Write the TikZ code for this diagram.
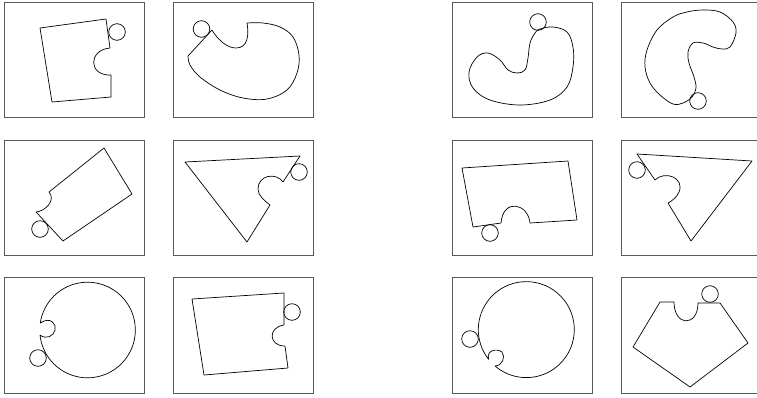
\documentclass[tikz,border=0pt]{standalone}
\begin{document}
\begin{tikzpicture}[x=1pt,y=-1pt,line width=0.7pt,
  panel/.style={draw=black!65,line width=1pt},
  piece/.style={draw,line join=round},
  ball/.style={draw}]
 \useasboundingbox (0,0) rectangle (757,397);
 \foreach \px in {4,173,452,621}
  \foreach \py/\ph in {2/115,140/115,277/116}
   \draw[panel] (\px,\py) rectangle ++(140,\ph);
 % left group, row 1
 \draw[piece] (40,28) -- (106,19) -- (110,48) .. controls (88,50) and (88,76) .. (111,75)
   -- (111,97) -- (52,102) -- cycle;
 \draw[ball] (117,32) circle[radius=8.3];
 \draw[piece] (212,30) -- plot[smooth,tension=0.6] coordinates {(188,56) (190,65) (200,77)
   (220,90) (243,98) (267,99) (287,90) (297,73) (299,55) (293,37) (280,27) (263,23) (247,23)}
   .. controls (249,35) and (248,48) .. (236,48) .. controls (227,48) and (218,40) .. (212,30);
 \draw[ball] (201.5,29) circle[radius=8.3];
 % left group, row 2
 \draw[piece] (104,148) -- (132,194) -- (63,241) -- (36,212)
   .. controls (46,211) and (56,200) .. (49,192) -- cycle;
 \draw[ball] (40,229) circle[radius=8.3];
 \draw[piece] (185,162) -- (300,156) -- (283,182) .. controls (276,172) and (258,175) .. (258,189)
   .. controls (258,196) and (265,201) .. (270,205) -- (247,242) -- cycle;
 \draw[ball] (299,172) circle[radius=8.3];
 % left group, row 3
 \draw[piece] (40,335) arc[start angle=174,end angle=-171.7,radius=47.8]
   .. controls (50,316) and (57,324) .. (55,330) .. controls (54,336) and (46,340) .. (40,335);
 \draw[ball] (38,358) circle[radius=8.3];
 \draw[piece] (192,299) -- (284,293) -- (284,325) .. controls (268,327) and (268,346) .. (285,346)
   -- (288,368) -- (204,375) -- cycle;
 \draw[ball] (292,312) circle[radius=8.3];
 % right group, row 1
 \draw[piece] plot[smooth cycle,tension=0.6] coordinates {(540,29) (553,27) (567,32) (573,47)
   (573,67) (567,87) (550,100) (520,105) (490,100) (473,88) (469,72) (477,57) (488,53)
   (500,60) (508,70) (517,73) (525,70) (528,58) (530,43) (535,33)};
 \draw[ball] (538,22) circle[radius=8.3];
 \draw[piece] plot[smooth cycle,tension=0.6] coordinates {(703,10) (720,12) (733,22) (736,33)
   (730,47) (722,49) (713,47) (703,43) (693,43) (688,52) (689,63) (694,77) (696,88) (692,97)
   (683,103) (673,104) (660,95) (650,83) (645,67) (647,50) (657,30) (673,17) (687,12)};
 \draw[ball] (698,101) circle[radius=8.3];
 % right group, row 2
 \draw[piece] (462,168) -- (568,161) -- (577,220) -- (530,223)
   .. controls (528,203) and (503,198) .. (501,223) -- (473,227) -- cycle;
 \draw[ball] (490,233) circle[radius=8.3];
 \draw[piece] (637,154) -- (752,161) -- (691,241) -- (668,203)
   .. controls (672,201) and (677,197) .. (679,192) .. controls (685,178) and (665,170) .. (655,180)
   -- cycle;
 \draw[ball] (637,170) circle[radius=8.3];
 % right group, row 3
 \draw[piece] (495,366) arc[start angle=130.7,end angle=-218.3,radius=48]
   .. controls (486,350) and (497,348) .. (502,352) .. controls (506,357) and (502,366) .. (495,366);
 \draw[ball] (470,339) circle[radius=8.3];
 \draw[piece] (633,347) -- (660,302) -- (674,302) .. controls (674,327) and (698,327) .. (698,303)
   -- (720,303) -- (748,343) -- (690,387) -- cycle;
 \draw[ball] (710,294) circle[radius=8.3];
\end{tikzpicture}
\end{document}
